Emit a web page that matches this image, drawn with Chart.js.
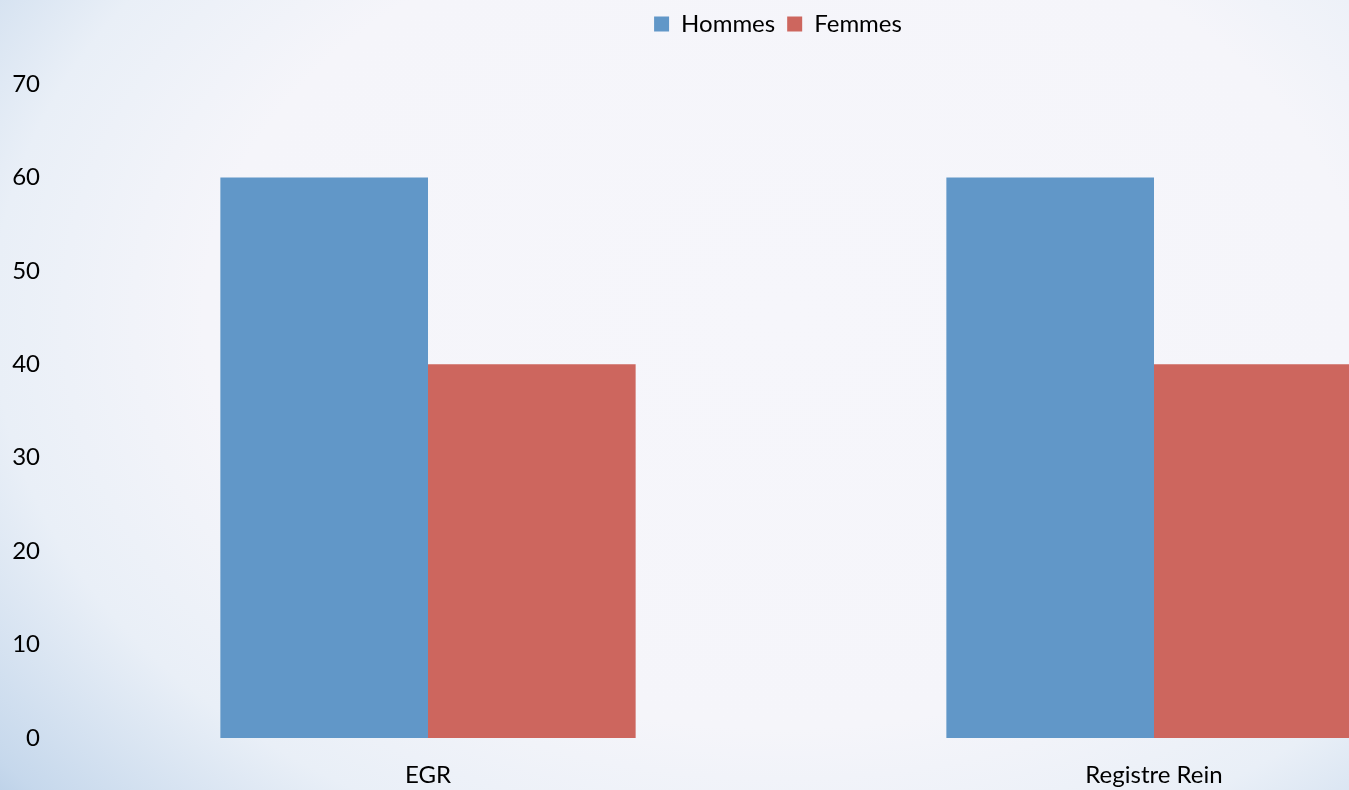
<!DOCTYPE html>
<html>
<head>
<meta charset="utf-8">
<script src="https://cdn.jsdelivr.net/npm/chart.js@4"></script>
<style>
  html, body {
    margin: 0;
    padding: 0;
    width: 1349px;
    height: 790px;
    overflow: hidden;
  }
  body {
    background: radial-gradient(ellipse 78% 95% at 58% 40%, #f6f6fb 0%, #f5f5fa 55%, #e9eff7 75%, #c6d8ec 95%, #b8cee6 100%);
  }
  #wrap {
    position: absolute;
    left: 0;
    top: 0;
    width: 1556px;
    height: 790px;
  }
</style>
</head>
<body>
<div id="wrap"><canvas id="chart"></canvas></div>
<script>
const categories = ['EGR', 'Registre Rein'];
const hommes = [60, 60];
const femmes = [40, 40];
const yTicks = [0, 10, 20, 30, 40, 50, 60, 70];

const font = { family: 'Lato, "Open Sans", sans-serif', size: 24 };

// pushes the plot down below the legend
const legendGap = {
    id: 'legendGap',
    beforeInit(chart) {
        const fit = chart.legend.fit;
        chart.legend.fit = function () {
            fit.bind(chart.legend)();
            this.height += 38;
        };
    }
};

const config = {
    type: 'bar',
    data: {
        labels: categories,
        datasets: [
            { label: 'Hommes', data: hommes, backgroundColor: '#6197c8' },
            { label: 'Femmes', data: femmes, backgroundColor: '#cd665e' }
        ]
    },
    options: {
        responsive: false,
        animation: false,
        maintainAspectRatio: false,
        layout: { padding: 0 },
        datasets: {
            bar: { categoryPercentage: 0.572, barPercentage: 1 }
        },
        plugins: {
            legend: {
                position: 'top',
                labels: {
                    font: font,
                    color: '#000',
                    boxWidth: 15,
                    boxHeight: 15,
                    padding: 12
                }
            },
            tooltip: { enabled: false }
        },
        scales: {
            x: {
                afterFit: scale => { scale.height = 52; },
                grid: { display: false, drawTicks: false },
                border: { display: false },
                ticks: { font: font, color: '#000', padding: 23, maxRotation: 0 }
            },
            y: {
                min: 0,
                max: 70,
                afterBuildTicks: scale => { scale.ticks = yTicks.map(v => ({ value: v })); },
                afterFit: scale => { scale.width = 65; },
                grid: { display: false, drawTicks: false },
                border: { display: false },
                ticks: { font: font, color: '#000', padding: 25 }
            },
            yRight: {
                position: 'right',
                display: true,
                afterFit: scale => { scale.width = 39; },
                grid: { display: false, drawTicks: false },
                border: { display: false },
                ticks: { display: false }
            }
        }
    },
    plugins: [legendGap]
};

const canvas = document.querySelector('#chart');
canvas.width = 1556;
canvas.height = 790;
new Chart(canvas.getContext('2d'), config);
</script>
</body>
</html>
